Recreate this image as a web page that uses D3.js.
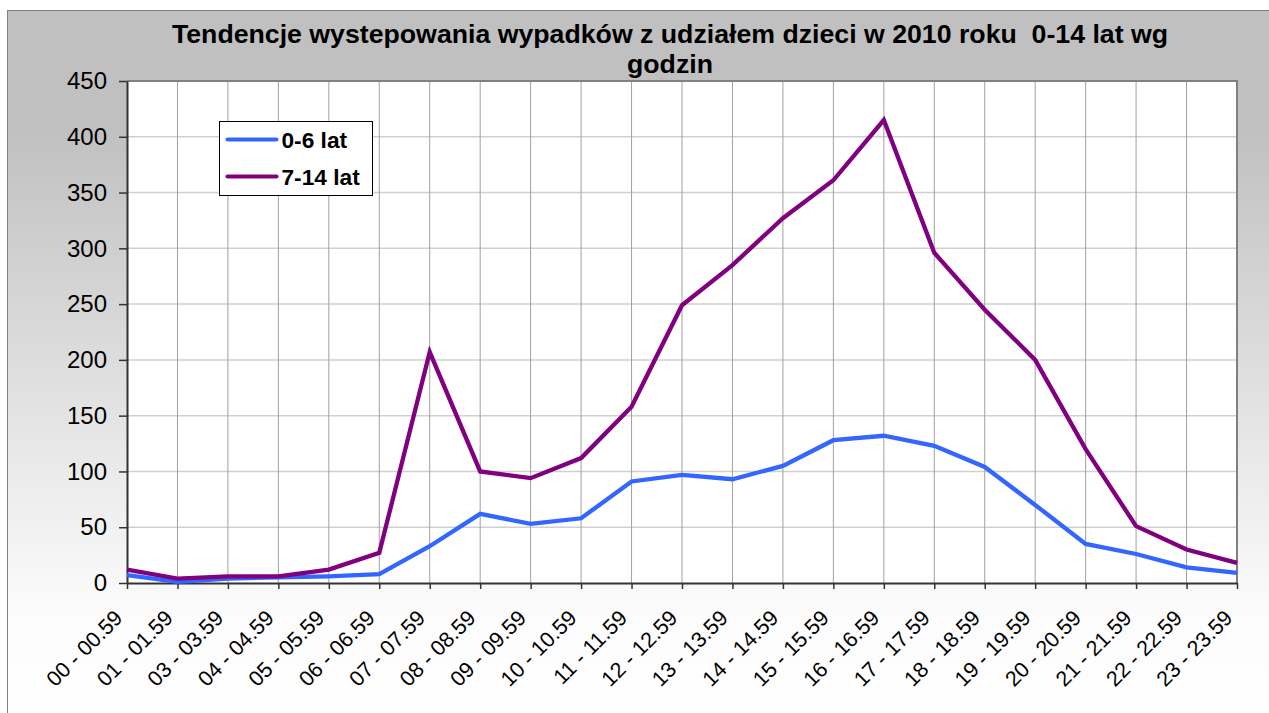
<!DOCTYPE html>
<html>
<head>
<meta charset="utf-8">
<script src="https://cdn.jsdelivr.net/npm/d3@7/dist/d3.min.js"></script>
<style>
  html, body { margin: 0; padding: 0; background: #ffffff; }
  svg { display: block; font-family: Arial, "Liberation Sans", sans-serif; }
  text { white-space: pre; }
</style>
</head>
<body>
<svg id="chart" width="1269" height="713"></svg>
<script>
const categories = ["00 - 00.59","01 - 01.59","03 - 03.59","04 - 04.59","05 - 05.59","06 - 06.59",
  "07 - 07.59","08 - 08.59","09 - 09.59","10 - 10.59","11 - 11.59","12 - 12.59","13 - 13.59",
  "14 - 14.59","15 - 15.59","16 - 16.59","17 - 17.59","18 - 18.59","19 - 19.59","20 - 20.59",
  "21 - 21.59","22 - 22.59","23 - 23.59"];
const seriesNames = ["0-6 lat", "7-14 lat"];
const values0to6  = [7, 1, 4, 5, 6, 8, 33, 62, 53, 58, 91, 97, 93, 105, 128, 132, 123, 104, 70, 35, 26, 14, 9];
const values7to14 = [12, 4, 6, 6, 12, 27, 207, 100, 94, 112, 158, 249, 285, 327, 361, 415, 296, 245, 200, 120, 51, 30, 18];
const yTicks = [0, 50, 100, 150, 200, 250, 300, 350, 400, 450];
const titleLines = ["Tendencje wystepowania wypadków z udziałem dzieci w 2010 roku  0-14 lat wg", "godzin"];

const colors = ["#3366ff", "#800080"];

const svg = d3.select("#chart");
const plot = { left: 127, right: 1237, top: 81, bottom: 583 };

// background gradient
const defs = svg.append("defs");
const grad = defs.append("linearGradient").attr("id", "bg").attr("x1", 0).attr("y1", 0).attr("x2", 0).attr("y2", 1);
grad.append("stop").attr("offset", "0.16").attr("stop-color", "#c0c0c0");
grad.append("stop").attr("offset", "0.84").attr("stop-color", "#fcfcfc");
grad.append("stop").attr("offset", "1").attr("stop-color", "#ffffff");
svg.append("rect").attr("x", 7.5).attr("y", 10.5).attr("width", 1300).attr("height", 720)
  .attr("fill", "url(#bg)").attr("stroke", "#808080").attr("stroke-width", 1);

const x = d3.scalePoint().domain(categories).range([plot.left, plot.right]);
const y = d3.scaleLinear().domain([0, 450]).range([plot.bottom, plot.top]);

// plot area
svg.append("rect").attr("x", plot.left).attr("y", plot.top)
  .attr("width", plot.right - plot.left).attr("height", plot.bottom - plot.top).attr("fill", "#ffffff");

// horizontal gridlines
svg.append("g").selectAll("line").data(yTicks.filter(d => d > 0)).join("line")
  .attr("x1", plot.left).attr("x2", plot.right)
  .attr("y1", d => y(d)).attr("y2", d => y(d))
  .attr("stroke", "#d0d0d0").attr("stroke-width", 1.5);

// vertical gridlines
svg.append("g").selectAll("line").data(categories.slice(1)).join("line")
  .attr("x1", d => x(d)).attr("x2", d => x(d))
  .attr("y1", plot.top).attr("y2", plot.bottom)
  .attr("stroke", "#a0a0a0").attr("stroke-width", 1);

// plot border top/right
svg.append("path")
  .attr("d", `M${plot.left},${plot.top}H${plot.right}V${plot.bottom}`)
  .attr("fill", "none").attr("stroke", "#808080").attr("stroke-width", 2);

// y axis
const yAxis = svg.append("g").attr("transform", `translate(${plot.left},0)`)
  .call(d3.axisLeft(y).tickValues(yTicks).tickSize(8).tickPadding(12).tickSizeOuter(0));
yAxis.select(".domain").attr("stroke", "#333333").attr("stroke-width", 2);
yAxis.selectAll(".tick line").attr("stroke", "#333333").attr("stroke-width", 1.5);
yAxis.selectAll(".tick text").attr("font-size", 24).attr("font-family", "Arial, 'Liberation Sans', sans-serif")
  .attr("fill", "#000");

// x axis
const xAxis = svg.append("g").attr("transform", `translate(0,${plot.bottom})`)
  .call(d3.axisBottom(x).tickSize(6).tickSizeOuter(0));
xAxis.select(".domain").attr("stroke", "#333333").attr("stroke-width", 2);
xAxis.selectAll(".tick line").attr("stroke", "#333333").attr("stroke-width", 1.5);
xAxis.selectAll(".tick text")
  .attr("y", null).attr("dy", "0.35em")
  .attr("transform", "translate(-9,31) rotate(-45)")
  .attr("text-anchor", "end")
  .attr("font-size", 21.5).attr("font-family", "Arial, 'Liberation Sans', sans-serif").attr("fill", "#000");

// lines
const line = d3.line().x((d, i) => x(categories[i])).y(d => y(d));
[values0to6, values7to14].forEach((vals, k) => {
  svg.append("path").datum(vals).attr("d", line)
    .attr("fill", "none").attr("stroke", colors[k]).attr("stroke-width", 4.3)
    .attr("stroke-linejoin", "miter");
});

// title
svg.append("g").selectAll("text").data(titleLines).join("text")
  .attr("x", 670).attr("y", (d, i) => 43 + i * 30)
  .attr("text-anchor", "middle").attr("font-weight", "bold").attr("font-size", 26.7)
  .attr("fill", "#000").text(d => d);

// legend
const lg = svg.append("g").attr("transform", "translate(219.5,121.5)");
lg.append("rect").attr("width", 153).attr("height", 74).attr("fill", "#fff").attr("stroke", "#000").attr("stroke-width", 1);
seriesNames.forEach((name, i) => {
  const cy = 18 + i * 37;
  lg.append("line").attr("x1", 8).attr("x2", 57).attr("y1", cy).attr("y2", cy)
    .attr("stroke", colors[i]).attr("stroke-width", 4).attr("stroke-linecap", "round");
  lg.append("text").attr("x", 62).attr("y", cy).attr("dy", "0.36em")
    .attr("font-weight", "bold").attr("font-size", 22.7).attr("fill", "#000").text(name);
});
</script>
</body>
</html>
